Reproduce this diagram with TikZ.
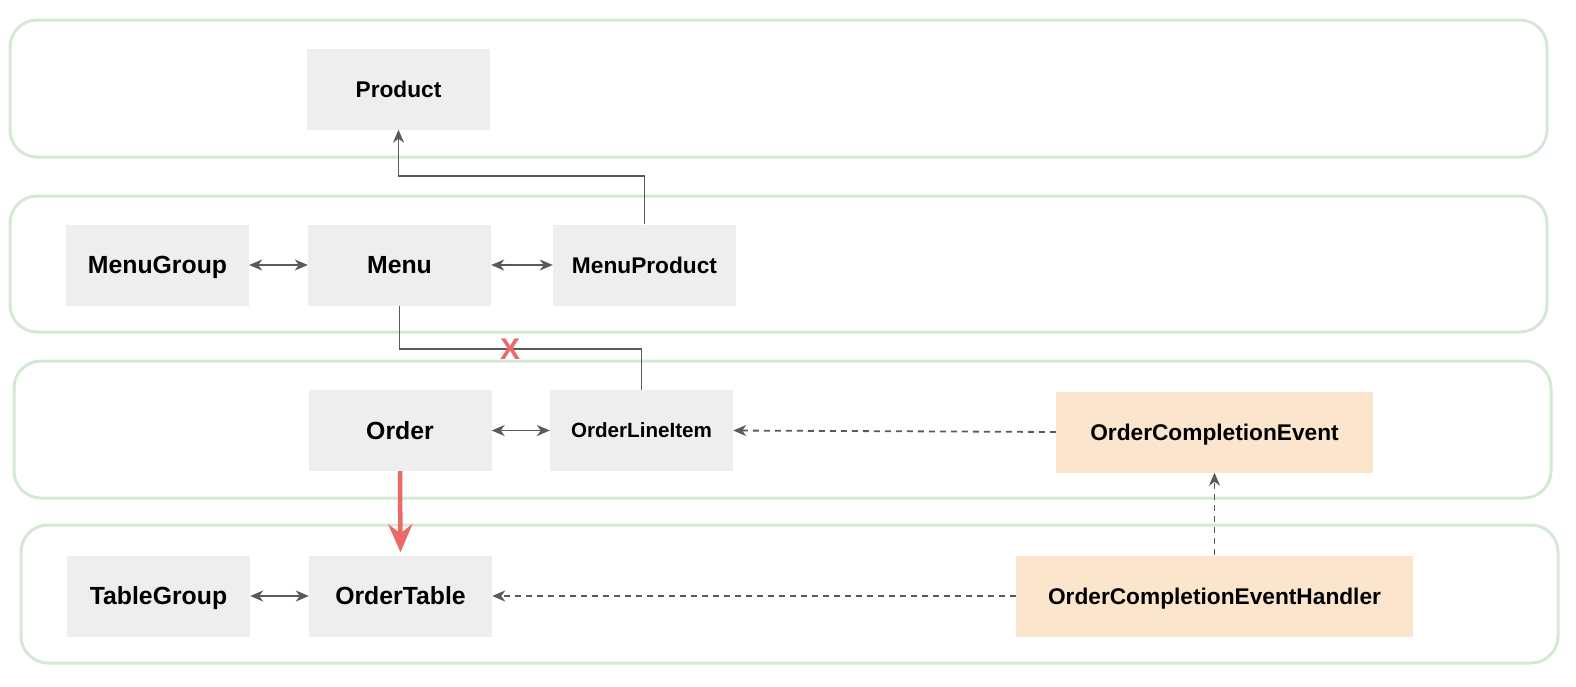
\documentclass[tikz,border=0pt]{standalone}
\usepackage{fontspec}
\setmainfont{Liberation Sans}
\usetikzlibrary{arrows.meta}

\definecolor{lanegreen}{HTML}{D5E8D4}
\definecolor{boxgrey}{HTML}{EEEEEE}
\definecolor{eventfill}{HTML}{FCE5CD}
\definecolor{linegrey}{HTML}{5A5A5A}
\definecolor{cutred}{HTML}{EA6B66}

\begin{document}
\begin{tikzpicture}[x=1pt, y=-1pt,
    >={Stealth[length=13pt, width=11pt, inset=4pt]},
    lane/.style={draw=lanegreen, line width=3pt, rounded corners=27pt},
    bigtext/.style={text height=17.8pt, text depth=0pt, font=\bfseries\fontsize{24.8}{28}\selectfont},
    midtext/.style={text height=16.3pt, text depth=0pt, font=\bfseries\fontsize{22.7}{26}\selectfont},
    smalltext/.style={text height=14.8pt, text depth=0pt, font=\bfseries\fontsize{20.6}{24}\selectfont},
    entity/.style={fill=boxgrey, minimum width=183pt, minimum height=81pt, inner sep=0pt, bigtext},
    event/.style={fill=eventfill, minimum height=81pt, inner sep=0pt, midtext},
    link/.style={linegrey, line width=1.8pt},
    eventlink/.style={link, dash pattern=on 6pt off 5pt},
    cutlink/.style={cutred, line width=4.5pt, -{Stealth[length=28pt, width=24pt, inset=9pt]}, shorten >=3pt}]
    \useasboundingbox (0,0) rectangle (1576,686);

    % lanes
    \draw [lane] (10,20) rectangle (1547,157);
    \draw [lane] (10,196) rectangle (1547,332);
    \draw [lane] (14,361) rectangle (1551,498);
    \draw [lane] (21,525) rectangle (1558,663);

    \node (prod) at (398.5,89) [entity, midtext] {Product};

    \node (mg) at (157.5,265) [entity] {MenuGroup};
    \node (menu) at (399.5,265) [entity] {Menu};
    \node (mp) at (644.5,265) [entity, midtext] {MenuProduct};

    \node (order) at (400,430.5) [entity] {Order};
    \node (oli) at (641.5,430.5) [entity, smalltext] {OrderLineItem};
    \node (oce) at (1214.5,432) [event, minimum width=317pt] {OrderCompletionEvent};

    \node (tg) at (158.5,596) [entity] {TableGroup};
    \node (ot) at (400.5,596) [entity] {OrderTable};
    \node (oceh) at (1214.5,596) [event, minimum width=397pt] {OrderCompletionEventHandler};

    \draw [link, ->] (mp.north) -- ++(0,-48) -| (prod.south);
    \draw [link, <->] (mg) -- (menu);
    \draw [link, <->] (menu) -- (mp);
    \draw [link] (menu.south) -- ++(0,43) -| (oli.north);
    \node (cut) at (510,349) [text=cutred, inner sep=0pt, font=\bfseries\fontsize{30}{30}\selectfont] {X};

    \draw [link, <->] (order) -- (oli);
    \draw [eventlink, ->] (oce.west) -- (oli.east);
    \draw [cutlink] (order.south) -- (ot.north);

    \draw [link, <->] (tg) -- (ot);
    \draw [eventlink, ->] (oceh.west) -- (ot.east);
    \draw [eventlink, ->] (oceh.north) -- (oce.south);
\end{tikzpicture}
\end{document}
